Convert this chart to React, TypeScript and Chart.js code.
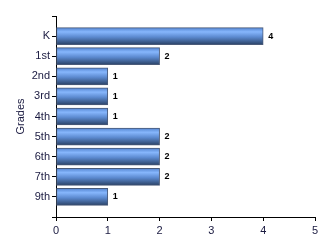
import React, { useEffect, useRef } from "react";
import { Chart, registerables } from "chart.js";

Chart.register(...registerables);

const categories = ["K", "1st", "2nd", "3rd", "4th", "5th", "6th", "7th", "9th"];
const counts = [4, 2, 1, 1, 1, 2, 2, 2, 1];
const xTicks = [0, 1, 2, 3, 4, 5];
const axisTitle = "Grades";

const BAR_H = 17;

const valueLabels = {
  id: "valueLabels",
  afterDatasetsDraw(chart: any) {
    const ctx = chart.ctx;
    const meta = chart.getDatasetMeta(0);
    ctx.save();
    ctx.font = "bold 9px 'Liberation Sans', Arial, sans-serif";
    ctx.fillStyle = "#000000";
    ctx.textBaseline = "middle";
    ctx.textAlign = "left";
    meta.data.forEach((el: any, i: number) => {
      const v = chart.data.datasets[0].data[i];
      if (v === null || v === undefined) return;
      ctx.fillText(String(v), el.x + 5, el.y);
    });
    ctx.restore();
  },
};

export default function App() {
  const ref = useRef<HTMLCanvasElement | null>(null);
  useEffect(() => {
    document.body.style.margin = "0";
    const labels = ["", ...categories, ""];
    const data = [null, ...counts, null];
    const chart = new Chart(ref.current as HTMLCanvasElement, {
      type: "bar",
      data: {
        labels,
        datasets: [
          {
            data: data as any,
            barThickness: BAR_H,
            borderWidth: 1,
            borderColor: "#4a5a78",
            borderSkipped: false,
            backgroundColor: (c: any) => {
              const chart = c.chart;
              const ys = chart.scales && chart.scales.y;
              if (!ys || !chart.chartArea) return "#5f8fd8";
              const y = ys.getPixelForValue(c.dataIndex);
              const g = chart.ctx.createLinearGradient(0, y - BAR_H / 2, 0, y + BAR_H / 2);
              g.addColorStop(0, "#5384d0");
              g.addColorStop(0.25, "#86b6fc");
              g.addColorStop(0.55, "#5c8ad0");
              g.addColorStop(1, "#2a4266");
              return g;
            },
          },
        ],
      },
      options: {
        indexAxis: "y",
        animation: false,
        responsive: false,
        layout: { padding: { top: 16, right: 15, left: 0, bottom: 0 } },
        plugins: { legend: { display: false }, tooltip: { enabled: false } },
        scales: {
          x: {
            type: "linear",
            min: 0,
            max: 5,
            afterBuildTicks: (s: any) => {
              s.ticks = xTicks.map((v) => ({ value: v }));
            },
            afterFit: (s: any) => {
              s.height = 33;
            },
            grid: { drawOnChartArea: false, drawTicks: true, tickLength: 4, color: "#000" },
            border: { display: true, color: "#000", width: 1 },
            ticks: {
              padding: 3,
              color: "#1a1a40",
              font: { family: "'Liberation Sans', Arial, sans-serif", size: 11 },
            },
          },
          y: {
            type: "category",
            offset: false,
            afterFit: (s: any) => {
              s.width = 56;
            },
            grid: { drawOnChartArea: false, drawTicks: true, tickLength: 4, color: "#000", offset: false },
            border: { display: true, color: "#000", width: 1 },
            ticks: {
              padding: 2,
              autoSkip: false,
              color: "#1a1a40",
              font: { family: "'Liberation Sans', Arial, sans-serif", size: 11 },
            },
            title: {
              display: true,
              text: axisTitle,
              color: "#1a1a40",
              padding: { top: 14, bottom: 0 },
              font: { family: "'Liberation Sans', Arial, sans-serif", size: 11 },
            },
          },
        },
      },
      plugins: [valueLabels],
    });
    return () => chart.destroy();
  }, []);
  return <canvas ref={ref} width={330} height={250} style={{ display: "block" }} />;
}
